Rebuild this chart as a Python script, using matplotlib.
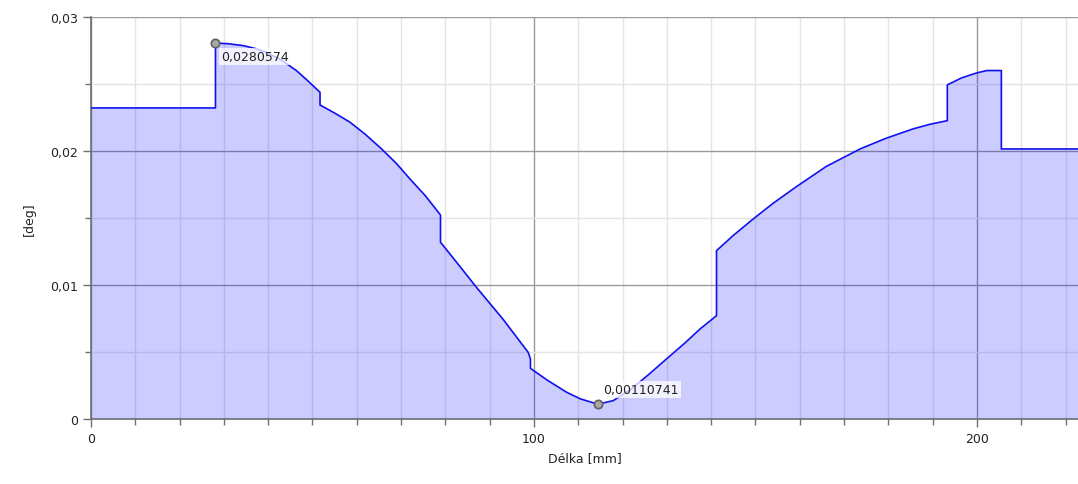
import matplotlib.pyplot as plt
from matplotlib.ticker import MultipleLocator, FuncFormatter

# Průběh natočení po délce hřídele
delka = [0, 28.1, 28.1, 31.0, 34.4, 37.0, 39.6, 43.0, 46.4, 49.0, 51.7, 51.7,
         55.0, 58.5, 62.0, 65.6, 69.0, 72.0, 75.5, 78.4,
         78.9, 78.9, 83.0, 87.0, 93.0, 98.7, 99.2, 99.2, 103.0, 107.4, 110.5,
         114.4, 117.9, 122.0, 126.0, 129.9, 134.0, 137.5, 141.2, 141.2, 145.0,
         149.5, 154.0, 159.3, 166.0, 173.6, 179.5, 185.6, 189.5, 193.3, 193.3,
         196.5, 199.9, 202.2, 205.5, 205.5, 222.8]
uhel = [0.02321, 0.02321, 0.0280574, 0.02800, 0.02786, 0.02765, 0.02736,
        0.02678, 0.02599, 0.02522, 0.02438, 0.02343, 0.02283, 0.02214,
        0.02122, 0.02015, 0.01905, 0.01791, 0.01665, 0.01543, 0.01522,
        0.01319, 0.01150, 0.00983, 0.00745, 0.00497, 0.00448, 0.00378,
        0.00290, 0.00199, 0.00150, 0.00110741, 0.00137, 0.00225, 0.00335,
        0.00448, 0.00565, 0.00672, 0.00771, 0.01256, 0.01370, 0.01493,
        0.01610, 0.01735, 0.01885, 0.02015, 0.02095, 0.02165, 0.02200,
        0.02226, 0.02493, 0.02545, 0.02582, 0.0260, 0.0260, 0.02015, 0.02015]

# Vyznačené extrémy
ext_x = [28.1, 114.4]
ext_y = [0.0280574, 0.00110741]
ext_txt = ['0,0280574', '0,00110741']

fig = plt.figure(figsize=(10.78, 4.85), dpi=100)
ax = fig.add_axes([0.0844, 0.134, 0.9156, 0.829])

ax.fill_between(delka, uhel, 0, color='#0000ff', alpha=0.2, linewidth=0, zorder=2)
ax.plot(delka, uhel, color='#1010f0', linewidth=1.2, zorder=3)

ax.plot(ext_x, ext_y, 'o', markersize=6, markerfacecolor='#a8a8a8',
        markeredgecolor='#606060', markeredgewidth=1.2, zorder=5)
for xx, yy, t in zip(ext_x, ext_y, ext_txt):
    ax.annotate(t, (xx, yy), xytext=(4, -5) if yy > 0.01 else (4, 6),
                textcoords='offset points', va='top' if yy > 0.01 else 'bottom',
                fontsize=9, color='#222222', zorder=6,
                bbox=dict(boxstyle='square,pad=0.15', fc='white', ec='none', alpha=0.75))

ax.set_xlim(0, 222.8)
ax.set_ylim(0, 0.03)
ax.xaxis.set_major_locator(MultipleLocator(100))
ax.xaxis.set_minor_locator(MultipleLocator(10))
ax.yaxis.set_major_locator(MultipleLocator(0.01))
ax.yaxis.set_minor_locator(MultipleLocator(0.005))
ax.yaxis.set_major_formatter(FuncFormatter(lambda v, p: '0' if abs(v) < 1e-9 else f'{v:.2f}'.replace('.', ',')))

ax.grid(which='major', color='#9a9a9a', linewidth=1.0, zorder=1)
ax.grid(which='minor', color='#e4e4e4', linewidth=1.0, zorder=1)
ax.set_axisbelow(True)

for s in ['top', 'right']:
    ax.spines[s].set_visible(False)
for s in ['left', 'bottom']:
    ax.spines[s].set_color('#707070')
    ax.spines[s].set_linewidth(1.2)

ax.tick_params(which='major', length=6, width=1.0, color='#707070', labelsize=9, labelcolor='#222222')
ax.tick_params(which='minor', length=4, width=1.0, color='#707070')

ax.set_xlabel('Délka [mm]', fontsize=9, color='#222222', labelpad=4)
ax.set_ylabel('[deg]', fontsize=9, color='#222222', labelpad=10)

fig.savefig('out.png', dpi=100)
